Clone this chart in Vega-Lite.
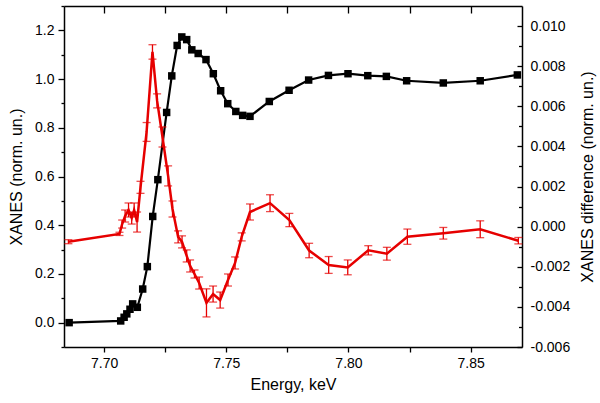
{
  "$schema": "https://vega.github.io/schema/vega-lite/v6.json",
  "width": 458,
  "height": 341,
  "autosize": "none",
  "padding": {"left": 64, "top": 6, "right": 78, "bottom": 56},
  "background": "white",
  "config": {
    "view": {"stroke": null},
    "font": "Liberation Sans",
    "axis": {
      "labelFont": "Liberation Sans",
      "titleFont": "Liberation Sans",
      "labelFontSize": 14,
      "titleFontSize": 16,
      "titleFontWeight": "normal",
      "labelColor": "#000",
      "titleColor": "#000",
      "domainColor": "#000",
      "tickColor": "#000",
      "domainWidth": 1.5,
      "tickWidth": 1.3,
      "grid": false
    }
  },
  "datasets": {
    "xanes": [
      {"E": 7.6857, "mu": 0.000},
      {"E": 7.7068, "mu": 0.007},
      {"E": 7.7082, "mu": 0.022},
      {"E": 7.7093, "mu": 0.036},
      {"E": 7.7106, "mu": 0.055},
      {"E": 7.7117, "mu": 0.077},
      {"E": 7.7136, "mu": 0.063},
      {"E": 7.7158, "mu": 0.138},
      {"E": 7.7177, "mu": 0.230},
      {"E": 7.7199, "mu": 0.436},
      {"E": 7.7220, "mu": 0.587},
      {"E": 7.7256, "mu": 0.863},
      {"E": 7.7277, "mu": 1.013},
      {"E": 7.7299, "mu": 1.138},
      {"E": 7.7318, "mu": 1.173},
      {"E": 7.7338, "mu": 1.162},
      {"E": 7.7359, "mu": 1.120},
      {"E": 7.7385, "mu": 1.105},
      {"E": 7.7417, "mu": 1.080},
      {"E": 7.7447, "mu": 1.022},
      {"E": 7.7477, "mu": 0.952},
      {"E": 7.7506, "mu": 0.899},
      {"E": 7.7539, "mu": 0.867},
      {"E": 7.7567, "mu": 0.851},
      {"E": 7.7597, "mu": 0.847},
      {"E": 7.7676, "mu": 0.908},
      {"E": 7.7757, "mu": 0.954},
      {"E": 7.7837, "mu": 0.996},
      {"E": 7.7918, "mu": 1.015},
      {"E": 7.7998, "mu": 1.022},
      {"E": 7.8079, "mu": 1.014},
      {"E": 7.8155, "mu": 1.011},
      {"E": 7.8238, "mu": 0.993},
      {"E": 7.8388, "mu": 0.984},
      {"E": 7.8539, "mu": 0.993},
      {"E": 7.8691, "mu": 1.017}
    ],
    "diff": [
      {"E": 7.6854, "d": -0.00075, "err": 0.0001},
      {"E": 7.7063, "d": -0.00036, "err": 0.00008},
      {"E": 7.7074, "d": 0.00013, "err": 0.0002},
      {"E": 7.7086, "d": 0.00053, "err": 0.0003},
      {"E": 7.7100, "d": 0.00083, "err": 0.00035},
      {"E": 7.7113, "d": 0.00043, "err": 0.0003},
      {"E": 7.7123, "d": 0.00083, "err": 0.00035},
      {"E": 7.7135, "d": 0.00023, "err": 0.0005},
      {"E": 7.7149, "d": 0.00196, "err": 0.0003},
      {"E": 7.7174, "d": 0.00472, "err": 0.00047},
      {"E": 7.7198, "d": 0.00871, "err": 0.00036},
      {"E": 7.7217, "d": 0.00627, "err": 0.00035},
      {"E": 7.7239, "d": 0.00447, "err": 0.0005},
      {"E": 7.7262, "d": 0.00253, "err": 0.0005},
      {"E": 7.7280, "d": 0.00088, "err": 0.0004},
      {"E": 7.7303, "d": -0.00051, "err": 0.0003},
      {"E": 7.7319, "d": -0.00076, "err": 0.0003},
      {"E": 7.7338, "d": -0.00146, "err": 0.0003},
      {"E": 7.7352, "d": -0.00196, "err": 0.0003},
      {"E": 7.7370, "d": -0.00236, "err": 0.0002},
      {"E": 7.7389, "d": -0.00281, "err": 0.0003},
      {"E": 7.7419, "d": -0.0038, "err": 0.0007},
      {"E": 7.7446, "d": -0.00336, "err": 0.0004},
      {"E": 7.7475, "d": -0.00366, "err": 0.0004},
      {"E": 7.7507, "d": -0.00266, "err": 0.0003},
      {"E": 7.7536, "d": -0.00181, "err": 0.0003},
      {"E": 7.7563, "d": -0.00051, "err": 0.0002},
      {"E": 7.7597, "d": 0.00073, "err": 0.0004},
      {"E": 7.7679, "d": 0.00117, "err": 0.00042},
      {"E": 7.7758, "d": 0.00033, "err": 0.00033},
      {"E": 7.7839, "d": -0.00119, "err": 0.00036},
      {"E": 7.7919, "d": -0.00191, "err": 0.00042},
      {"E": 7.7997, "d": -0.00203, "err": 0.00037},
      {"E": 7.8081, "d": -0.00118, "err": 0.00023},
      {"E": 7.8157, "d": -0.00135, "err": 0.00032},
      {"E": 7.8241, "d": -0.0005, "err": 0.00038},
      {"E": 7.8388, "d": -0.00033, "err": 0.00029},
      {"E": 7.8539, "d": -0.00013, "err": 0.00042},
      {"E": 7.8695, "d": -0.0007, "err": 0.00016}
    ]
  },
  "layer": [
    {
      "data": {"name": "xanes"},
      "encoding": {
        "x": {
          "field": "E", "type": "quantitative",
          "scale": {"domain": [7.6836, 7.871], "nice": false, "zero": false},
          "axis": {
            "orient": "bottom",
            "title": "Energy, keV",
            "values": [7.7, 7.725, 7.75, 7.775, 7.8, 7.825, 7.85],
            "labelExpr": "round(datum.value*1000) % 50 == 0 ? format(datum.value, '.2f') : ''",
            "tickSize": 5,
            "labelPadding": 4,
            "titlePadding": 6
          }
        },
        "y": {
          "field": "mu", "type": "quantitative",
          "scale": {"domain": [-0.1, 1.3], "nice": false, "zero": false},
          "axis": {
            "orient": "left",
            "title": "XANES (norm. un.)",
            "values": [-0.1, 0, 0.1, 0.2, 0.3, 0.4, 0.5, 0.6, 0.7, 0.8, 0.9, 1.0, 1.1, 1.2, 1.3],
            "labelExpr": "round(datum.value*10) % 2 == 0 && datum.value > -0.05 && datum.value < 1.25 ? format(datum.value, '.1f') : ''",
            "tickSize": {"condition": {"test": "round(datum.value*10) % 2 == 0", "value": 6}, "value": 3},
            "labelPadding": 4,
            "titlePadding": 10
          }
        }
      },
      "layer": [
        {"mark": {"type": "line", "color": "#000", "strokeWidth": 2.2}},
        {"mark": {"type": "point", "shape": "square", "filled": true, "color": "#000", "opacity": 1, "size": 56}}
      ]
    },
    {
      "data": {"name": "diff"},
      "encoding": {
        "x": {
          "field": "E", "type": "quantitative",
          "scale": {"domain": [7.6836, 7.871], "nice": false, "zero": false},
          "axis": {
            "orient": "top",
            "title": null,
            "labels": false,
            "values": [7.7, 7.725, 7.75, 7.775, 7.8, 7.825, 7.85],
            "tickSize": -7
          }
        },
        "y": {
          "field": "d", "type": "quantitative",
          "scale": {"domain": [-0.006, 0.011], "nice": false, "zero": false},
          "axis": {
            "orient": "right",
            "title": "XANES difference (norm. un.)",
            "titleAngle": 270,
            "titleBaseline": "top",
            "values": [-0.006, -0.005, -0.004, -0.003, -0.002, -0.001, 0, 0.001, 0.002, 0.003, 0.004, 0.005, 0.006, 0.007, 0.008, 0.009, 0.010],
            "labelExpr": "round(datum.value*1000) % 2 == 0 ? replace(format(datum.value, '.3f'), '\u2212', '-') : ''",
            "tickSize": {"condition": {"test": "round(datum.value*1000) % 2 == 0", "value": -5}, "value": -3.5},
            "labelPadding": 13,
            "titlePadding": 10
          }
        }
      },
      "layer": [
        {"mark": {"type": "line", "color": "#e60000", "strokeWidth": 2.5}},
        {
          "mark": {"type": "errorbar", "color": "#e60000", "thickness": 1.3, "ticks": {"size": 8, "thickness": 1.3}},
          "encoding": {"yError": {"field": "err"}}
        }
      ]
    }
  ],
  "resolve": {"scale": {"y": "independent"}, "axis": {"x": "independent", "y": "independent"}}
}
